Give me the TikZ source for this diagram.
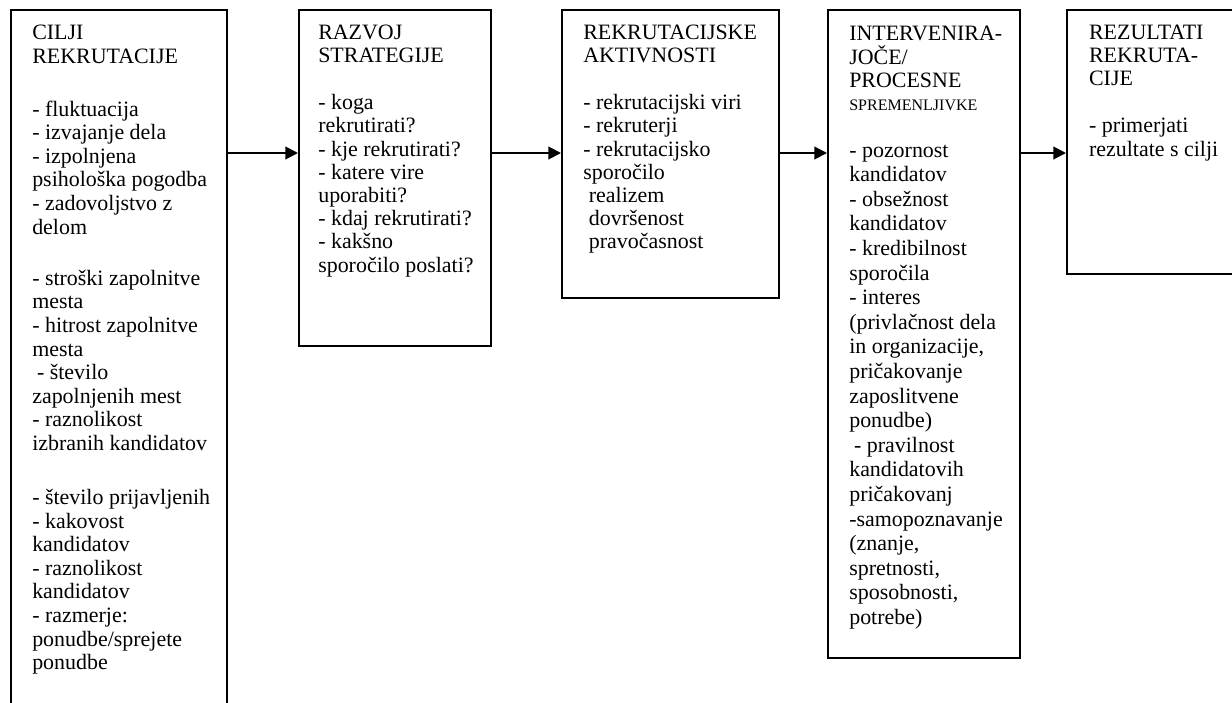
\documentclass[tikz,border=0pt]{standalone}
\usepackage{fontspec}
\setmainfont{Liberation Serif}
\usepackage{tikz}
\usetikzlibrary{arrows.meta, positioning}

\begin{document}
\begin{tikzpicture}[
    stage/.style={
        rectangle, draw=black, line width=1.4pt,
        anchor=north west, inner sep=0pt
    },
    arrow/.style={-{Triangle[length=9pt, width=9pt]}, line width=1.4pt},
    note/.style={
        anchor=north west, inner sep=0pt, align=left,
        font=\fontsize{15.6}{16.5}\selectfont
    },
]

\useasboundingbox (0,0) rectangle (30.8,-17.55);
\clip (0,0) rectangle (30.8,-17.55);

% Okvirji
\node[stage, minimum width=5.4cm,  minimum height=17.8cm] (cilji)  at (0.25,-0.225)   {};
\node[stage, minimum width=4.8cm,  minimum height=8.4cm]  (razvoj) at (7.45,-0.225)   {};
\node[stage, minimum width=5.42cm, minimum height=7.2cm]  (aktiv)  at (14.025,-0.225) {};
\node[stage, minimum width=4.8cm,  minimum height=16.2cm] (interv) at (20.675,-0.225) {};
\node[stage, minimum width=5.0cm,  minimum height=6.6cm]  (rezult) at (26.65,-0.225)  {};

% Besedila
\node[note, font=\fontsize{15.6}{16.8}\selectfont,
      below right=0.39cm and 0.55cm of cilji.north west] (ciljitxt)
    {CILJI\\ REKRUTACIJE\\[20.9pt]
     - fluktuacija\\ - izvajanje dela\\ - izpolnjena\\ psihološka pogodba\\
     - zadovoljstvo z\\ delom\\[19.5pt]
     - stroški zapolnitve\\ mesta\\ - hitrost zapolnitve\\ mesta\\
     \hspace*{0.12cm}- število\\ zapolnjenih mest\\ - raznolikost\\
     izbranih kandidatov\\[21.6pt]
     - število prijavljenih\\ - kakovost\\ kandidatov\\ - raznolikost\\
     kandidatov\\ - razmerje:\\ ponudbe/sprejete\\ ponudbe};

\node[note, below right=0.39cm and 0.5cm of razvoj.north west] (razvojtxt)
    {RAZVOJ\\ STRATEGIJE\\[17pt]
     - koga\\ rekrutirati?\\ - kje rekrutirati?\\ - katere vire\\
     uporabiti?\\ - kdaj rekrutirati?\\ - kakšno\\ sporočilo poslati?};

\node[note, below right=0.39cm and 0.55cm of aktiv.north west] (aktivtxt)
    {REKRUTACIJSKE\\ AKTIVNOSTI\\[17pt]
     - rekrutacijski viri\\ - rekruterji\\ - rekrutacijsko\\ sporočilo\\
     \hspace*{0.14cm}realizem\\ \hspace*{0.14cm}dovršenost\\
     \hspace*{0.14cm}pravočasnost};

\node[note, font=\fontsize{15.6}{17.5}\selectfont,
      below right=0.43cm and 0.55cm of interv.north west] (intervtxt)
    {INTERVENIRA-\\[-1.1pt] JOČE/\\[-1.1pt] PROCESNE\\[-1.1pt]
     {\fontsize{11.4}{16.5}\selectfont SPREMENLJIVKE}\\[15.9pt]
     - pozornost\\ kandidatov\\ - obsežnost\\ kandidatov\\ - kredibilnost\\
     sporočila\\ - interes\\ (privlačnost dela\\ in organizacije,\\
     pričakovanje\\ zaposlitvene\\ ponudbe)\\ \hspace*{0.12cm}- pravilnost\\
     kandidatovih\\ pričakovanj\\ -samopoznavanje\\ (znanje,\\ spretnosti,\\
     sposobnosti,\\ potrebe)};

\node[note, below right=0.39cm and 0.57cm of rezult.north west] (rezulttxt)
    {REZULTATI\\ REKRUTA-\\ CIJE\\[17pt]
     - primerjati\\ rezultate s cilji};

% Puščice
\draw[arrow] ([yshift=-3.6cm]cilji.north east)  -- ([yshift=-3.6cm]razvoj.north west);
\draw[arrow] ([yshift=-3.6cm]razvoj.north east) -- ([yshift=-3.6cm]aktiv.north west);
\draw[arrow] ([yshift=-3.6cm]aktiv.north east)  -- ([yshift=-3.6cm]interv.north west);
\draw[arrow] ([yshift=-3.6cm]interv.north east) -- ([yshift=-3.6cm]rezult.north west);

\end{tikzpicture}
\end{document}
